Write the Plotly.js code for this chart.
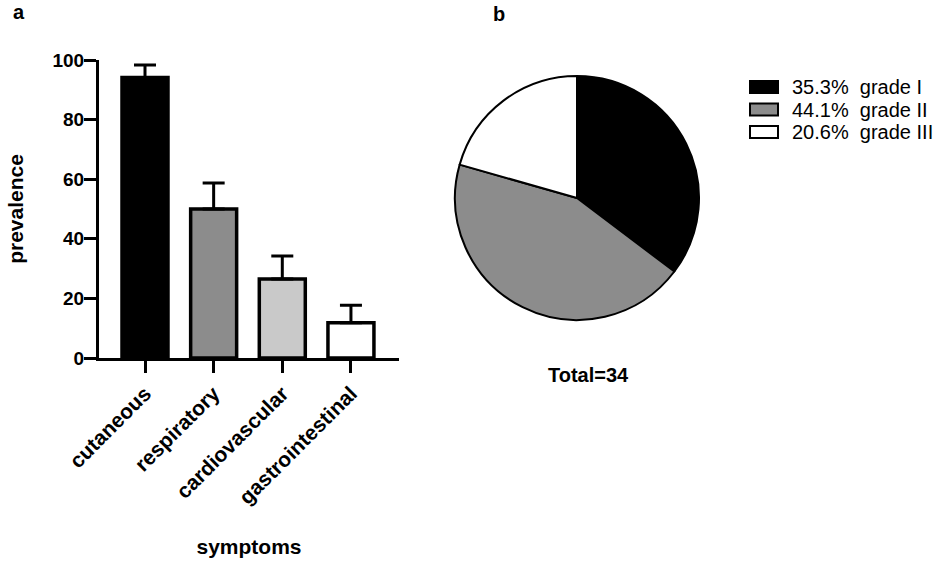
<!DOCTYPE html>
<html>
<head>
<meta charset="utf-8">
<script src="https://cdn.plot.ly/plotly-3.0.1.min.js"></script>
<style>html,body{margin:0;padding:0;background:#fff;}#chart{width:941px;height:563px;}</style>
</head>
<body>
<div id="chart"></div>
<script>
// ---- data ----
var symptoms = ['cutaneous', 'respiratory', 'cardiovascular', 'gastrointestinal'];
var prevalence = [94.1, 50.0, 26.5, 11.8];
var prevalenceErrUp = [4.2, 8.7, 7.7, 5.9];
var barColors = ['#000000', '#8c8c8c', '#c9c9c9', '#ffffff'];

var grades = ['grade I', 'grade II', 'grade III'];
var gradeCounts = [12, 15, 7];
var gradeColors = ['#000000', '#8c8c8c', '#ffffff'];
var totalLabel = 'Total=34';

// ---- helpers (pixel -> paper) ----
var W = 941, H = 563;
function px(x) { return x / W; }
function py(y) { return 1 - y / H; }

var FONT = 'Arial, "Liberation Sans", sans-serif';

var barTrace = {
  type: 'bar',
  x: symptoms,
  y: prevalence,
  width: 0.67,
  marker: { color: barColors, line: { color: '#000', width: 3.5 } },
  error_y: {
    type: 'data', symmetric: false,
    array: prevalenceErrUp,
    arrayminus: prevalence.map(function () { return 0; }),
    color: '#000', thickness: 3, width: 11
  },
  showlegend: false,
  hoverinfo: 'x+y'
};

var total = gradeCounts.reduce(function (a, b) { return a + b; }, 0);

var pieTrace = {
  type: 'pie',
  labels: grades,
  values: gradeCounts,
  sort: false,
  direction: 'clockwise',
  rotation: 0,
  textinfo: 'none',
  marker: { colors: gradeColors, line: { color: '#000', width: 2 } },
  domain: { x: [px(577 - 122), px(577 + 122)], y: [py(198 + 122), py(198 - 122)] },
  showlegend: false
};

// legend built from pie data
var shapes = [];
var annotations = [];
var legTop = 81, legStep = 22.5;
for (var i = 0; i < grades.length; i++) {
  var y0 = legTop + i * legStep;
  shapes.push({
    type: 'rect', xref: 'paper', yref: 'paper',
    x0: px(750), x1: px(778), y0: py(y0 + 12), y1: py(y0),
    fillcolor: gradeColors[i], line: { color: '#000', width: 2 }
  });
  var pct = (gradeCounts[i] / total * 100).toFixed(1) + '%';
  annotations.push({
    xref: 'paper', yref: 'paper', x: px(790), y: py(y0 + 6),
    xanchor: 'left', yanchor: 'middle', showarrow: false,
    text: pct + '\u00a0\u00a0' + grades[i],
    font: { family: FONT, size: 20, color: '#000' }
  });
}
annotations.push({
  xref: 'paper', yref: 'paper', x: px(19), y: py(12), xanchor: 'center', yanchor: 'middle',
  showarrow: false, text: '<b>a</b>', font: { family: FONT, size: 20, color: '#000' }
});
annotations.push({
  xref: 'paper', yref: 'paper', x: px(499), y: py(14), xanchor: 'center', yanchor: 'middle',
  showarrow: false, text: '<b>b</b>', font: { family: FONT, size: 20, color: '#000' }
});
annotations.push({
  xref: 'paper', yref: 'paper', x: px(588), y: py(375), xanchor: 'center', yanchor: 'middle',
  showarrow: false, text: '<b>' + totalLabel + '</b>', font: { family: FONT, size: 20, color: '#000' }
});

var layout = {
  width: W, height: H,
  margin: { l: 0, r: 0, t: 0, b: 0 },
  paper_bgcolor: '#fff', plot_bgcolor: 'rgba(0,0,0,0)',
  showlegend: false,
  xaxis: {
    domain: [px(99), px(399)],
    range: [-0.67, 3.7],
    type: 'category',
    showline: true, linecolor: '#000', linewidth: 3,
    ticks: 'outside', ticklen: 12, tickwidth: 3, tickcolor: '#000',
    tickangle: -45,
    tickfont: { family: FONT, size: 21, color: '#000', weight: 'bold' },
    showgrid: false, zeroline: false,
    title: { text: 'symptoms', font: { family: FONT, size: 21, color: '#000', weight: 'bold' }, standoff: 32 }
  },
  yaxis: {
    domain: [py(358), py(60)],
    range: [0, 100],
    tickvals: [0, 20, 40, 60, 80, 100],
    showline: true, linecolor: '#000', linewidth: 3,
    ticks: 'outside', ticklen: 12, tickwidth: 3, tickcolor: '#000',
    ticklabelstandoff: -4,
    tickfont: { family: FONT, size: 19, color: '#000', weight: 'bold' },
    showgrid: false, zeroline: false,
    title: { text: 'prevalence', font: { family: FONT, size: 21, color: '#000', weight: 'bold' }, standoff: 24 }
  },
  shapes: shapes,
  annotations: annotations
};

Plotly.newPlot('chart', [barTrace, pieTrace], layout, { displayModeBar: false, staticPlot: true });
</script>
</body>
</html>
